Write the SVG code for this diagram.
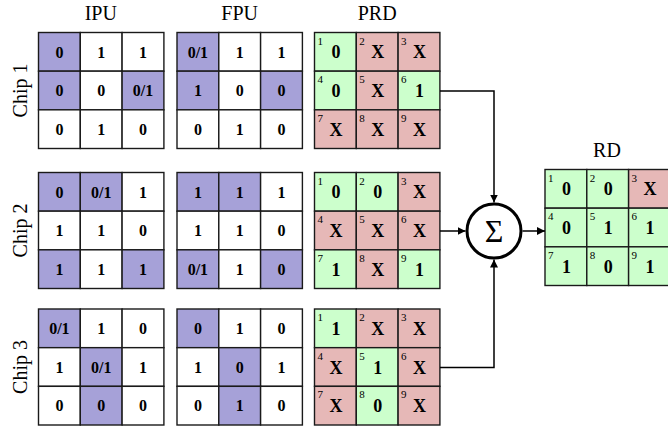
<svg xmlns="http://www.w3.org/2000/svg" width="668" height="427" viewBox="0 0 668 427">
<style>
rect{stroke:#1a1a1a;stroke-width:1.4}
.w{fill:#ffffff}.p{fill:#a6a1d8}.g{fill:#ccffcc}.r{fill:#e6b8b7}
text{font-family:"Liberation Serif","Times New Roman",serif;fill:#000}
.v{font-size:16px;font-weight:bold;text-anchor:middle}
.pv{font-size:18px;font-weight:bold;text-anchor:middle}
.s{font-size:11px}
.t{font-size:20px;text-anchor:middle}
.c{fill:none;stroke:#000;stroke-width:1.5}
</style>
<defs>
<marker id="ah" viewBox="0 0 10 10" refX="10" refY="5" markerWidth="8" markerHeight="8" markerUnits="userSpaceOnUse" orient="auto">
<path d="M0,0 L10,5 L0,10 Z" fill="#000"/>
</marker>
</defs>

<text class="t" x="100.8" y="20">IPU</text>
<text class="t" x="239.7" y="20">FPU</text>
<text class="t" x="377.2" y="20">PRD</text>
<text class="t" x="607" y="157">RD</text>
<text class="t" transform="translate(27,90.5) rotate(-90)">Chip 1</text>
<text class="t" transform="translate(27,230.5) rotate(-90)">Chip 2</text>
<text class="t" transform="translate(27,367) rotate(-90)">Chip 3</text>

<!-- Chip 1 -->
<g id="ipu1" transform="translate(38.5,32.5)">
<rect class="p" x="0" y="0" width="41.8" height="38.67"/><rect class="w" x="41.8" y="0" width="41.8" height="38.67"/><rect class="w" x="83.6" y="0" width="41.8" height="38.67"/>
<rect class="p" x="0" y="38.67" width="41.8" height="38.67"/><rect class="w" x="41.8" y="38.67" width="41.8" height="38.67"/><rect class="p" x="83.6" y="38.67" width="41.8" height="38.67"/>
<rect class="w" x="0" y="77.33" width="41.8" height="38.67"/><rect class="w" x="41.8" y="77.33" width="41.8" height="38.67"/><rect class="w" x="83.6" y="77.33" width="41.8" height="38.67"/>
<text class="v" x="20.9" y="25">0</text><text class="v" x="62.7" y="25">1</text><text class="v" x="104.5" y="25">1</text>
<text class="v" x="20.9" y="63.7">0</text><text class="v" x="62.7" y="63.7">0</text><text class="v" x="104.5" y="63.7">0/1</text>
<text class="v" x="20.9" y="102.3">0</text><text class="v" x="62.7" y="102.3">1</text><text class="v" x="104.5" y="102.3">0</text>
</g>
<g id="fpu1" transform="translate(177,32.5)">
<rect class="p" x="0" y="0" width="41.8" height="38.67"/><rect class="w" x="41.8" y="0" width="41.8" height="38.67"/><rect class="w" x="83.6" y="0" width="41.8" height="38.67"/>
<rect class="p" x="0" y="38.67" width="41.8" height="38.67"/><rect class="w" x="41.8" y="38.67" width="41.8" height="38.67"/><rect class="p" x="83.6" y="38.67" width="41.8" height="38.67"/>
<rect class="w" x="0" y="77.33" width="41.8" height="38.67"/><rect class="w" x="41.8" y="77.33" width="41.8" height="38.67"/><rect class="w" x="83.6" y="77.33" width="41.8" height="38.67"/>
<text class="v" x="20.9" y="25">0/1</text><text class="v" x="62.7" y="25">1</text><text class="v" x="104.5" y="25">1</text>
<text class="v" x="20.9" y="63.7">1</text><text class="v" x="62.7" y="63.7">0</text><text class="v" x="104.5" y="63.7">0</text>
<text class="v" x="20.9" y="102.3">0</text><text class="v" x="62.7" y="102.3">1</text><text class="v" x="104.5" y="102.3">0</text>
</g>
<g id="prd1" transform="translate(314.5,32.5)">
<rect class="g" x="0" y="0" width="41.8" height="38.67"/><rect class="r" x="41.8" y="0" width="41.8" height="38.67"/><rect class="r" x="83.6" y="0" width="41.8" height="38.67"/>
<rect class="g" x="0" y="38.67" width="41.8" height="38.67"/><rect class="r" x="41.8" y="38.67" width="41.8" height="38.67"/><rect class="g" x="83.6" y="38.67" width="41.8" height="38.67"/>
<rect class="r" x="0" y="77.33" width="41.8" height="38.67"/><rect class="r" x="41.8" y="77.33" width="41.8" height="38.67"/><rect class="r" x="83.6" y="77.33" width="41.8" height="38.67"/>
<text class="s" x="3" y="12">1</text><text class="s" x="44.8" y="12">2</text><text class="s" x="86.6" y="12">3</text>
<text class="s" x="3" y="50.7">4</text><text class="s" x="44.8" y="50.7">5</text><text class="s" x="86.6" y="50.7">6</text>
<text class="s" x="3" y="89.3">7</text><text class="s" x="44.8" y="89.3">8</text><text class="s" x="86.6" y="89.3">9</text>
<text class="pv" x="21.5" y="25.8">0</text><text class="pv" x="63.3" y="25.8">X</text><text class="pv" x="105.1" y="25.8">X</text>
<text class="pv" x="21.5" y="64.5">0</text><text class="pv" x="63.3" y="64.5">X</text><text class="pv" x="105.1" y="64.5">1</text>
<text class="pv" x="21.5" y="103.2">X</text><text class="pv" x="63.3" y="103.2">X</text><text class="pv" x="105.1" y="103.2">X</text>
</g>

<!-- Chip 2 -->
<g id="ipu2" transform="translate(38.5,172.5)">
<rect class="p" x="0" y="0" width="41.8" height="38.67"/><rect class="p" x="41.8" y="0" width="41.8" height="38.67"/><rect class="w" x="83.6" y="0" width="41.8" height="38.67"/>
<rect class="w" x="0" y="38.67" width="41.8" height="38.67"/><rect class="w" x="41.8" y="38.67" width="41.8" height="38.67"/><rect class="w" x="83.6" y="38.67" width="41.8" height="38.67"/>
<rect class="p" x="0" y="77.33" width="41.8" height="38.67"/><rect class="w" x="41.8" y="77.33" width="41.8" height="38.67"/><rect class="p" x="83.6" y="77.33" width="41.8" height="38.67"/>
<text class="v" x="20.9" y="25">0</text><text class="v" x="62.7" y="25">0/1</text><text class="v" x="104.5" y="25">1</text>
<text class="v" x="20.9" y="63.7">1</text><text class="v" x="62.7" y="63.7">1</text><text class="v" x="104.5" y="63.7">0</text>
<text class="v" x="20.9" y="102.3">1</text><text class="v" x="62.7" y="102.3">1</text><text class="v" x="104.5" y="102.3">1</text>
</g>
<g id="fpu2" transform="translate(177,172.5)">
<rect class="p" x="0" y="0" width="41.8" height="38.67"/><rect class="p" x="41.8" y="0" width="41.8" height="38.67"/><rect class="w" x="83.6" y="0" width="41.8" height="38.67"/>
<rect class="w" x="0" y="38.67" width="41.8" height="38.67"/><rect class="w" x="41.8" y="38.67" width="41.8" height="38.67"/><rect class="w" x="83.6" y="38.67" width="41.8" height="38.67"/>
<rect class="p" x="0" y="77.33" width="41.8" height="38.67"/><rect class="w" x="41.8" y="77.33" width="41.8" height="38.67"/><rect class="p" x="83.6" y="77.33" width="41.8" height="38.67"/>
<text class="v" x="20.9" y="25">1</text><text class="v" x="62.7" y="25">1</text><text class="v" x="104.5" y="25">1</text>
<text class="v" x="20.9" y="63.7">1</text><text class="v" x="62.7" y="63.7">1</text><text class="v" x="104.5" y="63.7">0</text>
<text class="v" x="20.9" y="102.3">0/1</text><text class="v" x="62.7" y="102.3">1</text><text class="v" x="104.5" y="102.3">0</text>
</g>
<g id="prd2" transform="translate(314.5,172.5)">
<rect class="g" x="0" y="0" width="41.8" height="38.67"/><rect class="g" x="41.8" y="0" width="41.8" height="38.67"/><rect class="r" x="83.6" y="0" width="41.8" height="38.67"/>
<rect class="r" x="0" y="38.67" width="41.8" height="38.67"/><rect class="r" x="41.8" y="38.67" width="41.8" height="38.67"/><rect class="r" x="83.6" y="38.67" width="41.8" height="38.67"/>
<rect class="g" x="0" y="77.33" width="41.8" height="38.67"/><rect class="r" x="41.8" y="77.33" width="41.8" height="38.67"/><rect class="g" x="83.6" y="77.33" width="41.8" height="38.67"/>
<text class="s" x="3" y="12">1</text><text class="s" x="44.8" y="12">2</text><text class="s" x="86.6" y="12">3</text>
<text class="s" x="3" y="50.7">4</text><text class="s" x="44.8" y="50.7">5</text><text class="s" x="86.6" y="50.7">6</text>
<text class="s" x="3" y="89.3">7</text><text class="s" x="44.8" y="89.3">8</text><text class="s" x="86.6" y="89.3">9</text>
<text class="pv" x="21.5" y="25.8">0</text><text class="pv" x="63.3" y="25.8">0</text><text class="pv" x="105.1" y="25.8">X</text>
<text class="pv" x="21.5" y="64.5">X</text><text class="pv" x="63.3" y="64.5">X</text><text class="pv" x="105.1" y="64.5">X</text>
<text class="pv" x="21.5" y="103.2">1</text><text class="pv" x="63.3" y="103.2">X</text><text class="pv" x="105.1" y="103.2">1</text>
</g>

<!-- Chip 3 -->
<g id="ipu3" transform="translate(38.5,309)">
<rect class="p" x="0" y="0" width="41.8" height="38.67"/><rect class="w" x="41.8" y="0" width="41.8" height="38.67"/><rect class="w" x="83.6" y="0" width="41.8" height="38.67"/>
<rect class="w" x="0" y="38.67" width="41.8" height="38.67"/><rect class="p" x="41.8" y="38.67" width="41.8" height="38.67"/><rect class="w" x="83.6" y="38.67" width="41.8" height="38.67"/>
<rect class="w" x="0" y="77.33" width="41.8" height="38.67"/><rect class="p" x="41.8" y="77.33" width="41.8" height="38.67"/><rect class="w" x="83.6" y="77.33" width="41.8" height="38.67"/>
<text class="v" x="20.9" y="25">0/1</text><text class="v" x="62.7" y="25">1</text><text class="v" x="104.5" y="25">0</text>
<text class="v" x="20.9" y="63.7">1</text><text class="v" x="62.7" y="63.7">0/1</text><text class="v" x="104.5" y="63.7">1</text>
<text class="v" x="20.9" y="102.3">0</text><text class="v" x="62.7" y="102.3">0</text><text class="v" x="104.5" y="102.3">0</text>
</g>
<g id="fpu3" transform="translate(177,309)">
<rect class="p" x="0" y="0" width="41.8" height="38.67"/><rect class="w" x="41.8" y="0" width="41.8" height="38.67"/><rect class="w" x="83.6" y="0" width="41.8" height="38.67"/>
<rect class="w" x="0" y="38.67" width="41.8" height="38.67"/><rect class="p" x="41.8" y="38.67" width="41.8" height="38.67"/><rect class="w" x="83.6" y="38.67" width="41.8" height="38.67"/>
<rect class="w" x="0" y="77.33" width="41.8" height="38.67"/><rect class="p" x="41.8" y="77.33" width="41.8" height="38.67"/><rect class="w" x="83.6" y="77.33" width="41.8" height="38.67"/>
<text class="v" x="20.9" y="25">0</text><text class="v" x="62.7" y="25">1</text><text class="v" x="104.5" y="25">0</text>
<text class="v" x="20.9" y="63.7">1</text><text class="v" x="62.7" y="63.7">0</text><text class="v" x="104.5" y="63.7">1</text>
<text class="v" x="20.9" y="102.3">0</text><text class="v" x="62.7" y="102.3">1</text><text class="v" x="104.5" y="102.3">0</text>
</g>
<g id="prd3" transform="translate(314.5,309)">
<rect class="g" x="0" y="0" width="41.8" height="38.67"/><rect class="r" x="41.8" y="0" width="41.8" height="38.67"/><rect class="r" x="83.6" y="0" width="41.8" height="38.67"/>
<rect class="r" x="0" y="38.67" width="41.8" height="38.67"/><rect class="g" x="41.8" y="38.67" width="41.8" height="38.67"/><rect class="r" x="83.6" y="38.67" width="41.8" height="38.67"/>
<rect class="r" x="0" y="77.33" width="41.8" height="38.67"/><rect class="g" x="41.8" y="77.33" width="41.8" height="38.67"/><rect class="r" x="83.6" y="77.33" width="41.8" height="38.67"/>
<text class="s" x="3" y="12">1</text><text class="s" x="44.8" y="12">2</text><text class="s" x="86.6" y="12">3</text>
<text class="s" x="3" y="50.7">4</text><text class="s" x="44.8" y="50.7">5</text><text class="s" x="86.6" y="50.7">6</text>
<text class="s" x="3" y="89.3">7</text><text class="s" x="44.8" y="89.3">8</text><text class="s" x="86.6" y="89.3">9</text>
<text class="pv" x="21.5" y="25.8">1</text><text class="pv" x="63.3" y="25.8">X</text><text class="pv" x="105.1" y="25.8">X</text>
<text class="pv" x="21.5" y="64.5">X</text><text class="pv" x="63.3" y="64.5">1</text><text class="pv" x="105.1" y="64.5">X</text>
<text class="pv" x="21.5" y="103.2">X</text><text class="pv" x="63.3" y="103.2">0</text><text class="pv" x="105.1" y="103.2">X</text>
</g>

<!-- RD -->
<g id="rd" transform="translate(545,169.5)">
<rect class="g" x="0" y="0" width="41.8" height="38.67"/><rect class="g" x="41.8" y="0" width="41.8" height="38.67"/><rect class="r" x="83.6" y="0" width="41.8" height="38.67"/>
<rect class="g" x="0" y="38.67" width="41.8" height="38.67"/><rect class="g" x="41.8" y="38.67" width="41.8" height="38.67"/><rect class="g" x="83.6" y="38.67" width="41.8" height="38.67"/>
<rect class="g" x="0" y="77.33" width="41.8" height="38.67"/><rect class="g" x="41.8" y="77.33" width="41.8" height="38.67"/><rect class="g" x="83.6" y="77.33" width="41.8" height="38.67"/>
<text class="s" x="3" y="12">1</text><text class="s" x="44.8" y="12">2</text><text class="s" x="86.6" y="12">3</text>
<text class="s" x="3" y="50.7">4</text><text class="s" x="44.8" y="50.7">5</text><text class="s" x="86.6" y="50.7">6</text>
<text class="s" x="3" y="89.3">7</text><text class="s" x="44.8" y="89.3">8</text><text class="s" x="86.6" y="89.3">9</text>
<text class="pv" x="21.5" y="25.8">0</text><text class="pv" x="63.3" y="25.8">0</text><text class="pv" x="105.1" y="25.8">X</text>
<text class="pv" x="21.5" y="64.5">0</text><text class="pv" x="63.3" y="64.5">1</text><text class="pv" x="105.1" y="64.5">1</text>
<text class="pv" x="21.5" y="103.2">1</text><text class="pv" x="63.3" y="103.2">0</text><text class="pv" x="105.1" y="103.2">1</text>
</g>

<!-- Sum -->
<g id="sum">
<circle cx="494" cy="231" r="27" fill="#fff" stroke="#000" stroke-width="3"/>
<text x="494" y="242" style="font-size:32px;text-anchor:middle">Σ</text>
</g>

<!-- Connectors -->
<g id="connectors">
<path class="c" d="M440,91 H494 V202.5" marker-end="url(#ah)"/>
<path class="c" d="M440,367.5 H494 V259.5" marker-end="url(#ah)"/>
<path class="c" d="M440,231 H465.5" marker-end="url(#ah)"/>
<path class="c" d="M522.5,231 H545" marker-end="url(#ah)"/>
</g>
</svg>
